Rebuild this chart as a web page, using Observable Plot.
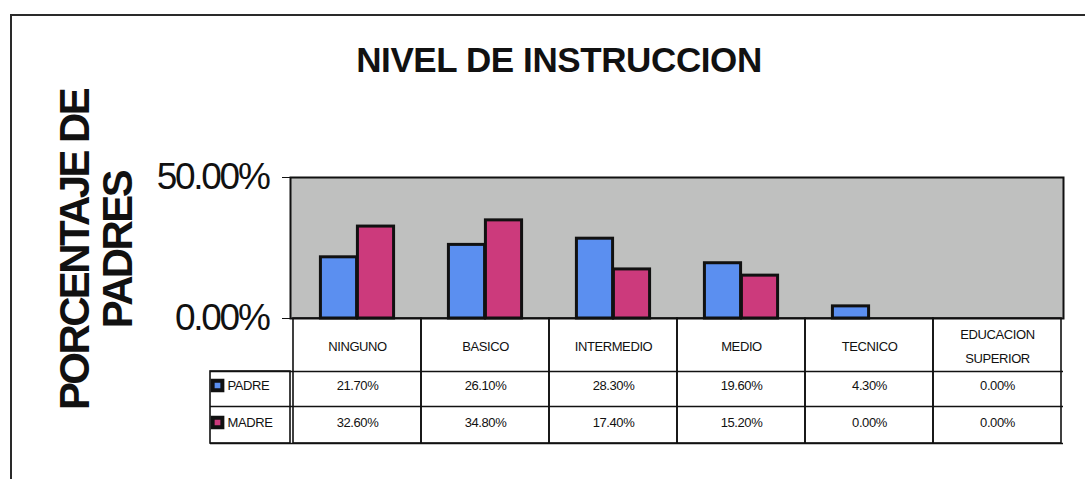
<!DOCTYPE html>
<html>
<head>
<meta charset="utf-8">
<script src="https://cdn.jsdelivr.net/npm/d3@7"></script>
<script src="https://cdn.jsdelivr.net/npm/@observablehq/plot@0.6"></script>
<style>
html,body{margin:0;padding:0;background:#fff;overflow:hidden;}
#wrap{position:relative;width:1085px;height:479px;overflow:hidden;background:#fff;}
#chart{position:absolute;left:0;top:0;}
#border{position:absolute;left:10px;top:14px;width:1100px;height:520px;border:2px solid #2a2a2a;pointer-events:none;}
#chart g[aria-label^="y-axis"] text{font-size:37px;letter-spacing:-2.3px;}
#chart g[font-size="42"]{letter-spacing:-2.6px;}
#chart g[font-size="35"]{letter-spacing:-0.4px;}
#chart g[font-size="13"]{letter-spacing:-0.4px;}
</style>
</head>
<body>
<div id="wrap"><div id="chart"></div><div id="border"></div></div>
<script>
// ---- data ----
const categories = ["NINGUNO", "BASICO", "INTERMEDIO", "MEDIO", "TECNICO", "EDUCACION SUPERIOR"];
const categoryLabels = ["NINGUNO", "BASICO", "INTERMEDIO", "MEDIO", "TECNICO", "EDUCACION\nSUPERIOR"];
const series = ["PADRE", "MADRE"];
const padre = [21.7, 26.1, 28.3, 19.6, 4.3, 0.0];
const madre = [32.6, 34.8, 17.4, 15.2, 0.0, 0.0];
const yTicks = [0, 50];
const titleText = "NIVEL DE INSTRUCCION";
const yTitleText = "PORCENTAJE DE\nPADRES";

const rows = series.flatMap((s, si) =>
  categories.map((c, i) => ({series: s, cat: c, label: categoryLabels[i], value: (si === 0 ? padre : madre)[i]}))
);

// ---- layout / style ----
const W = 1085, H = 479, ML = 290, MR = 22, MT = 177, MB = 161;
const FW = W - ML - MR;
const colors = ["#5b8ff0", "#cc3a7c"];
const pct = v => v.toFixed(2) + "%";
const barW = 37;
const inset = (FW / categories.length - barW) / 2;
const ROW1 = 53, ROW2 = 88, ROW3 = 125, LEG = 80;
const line = "#111";

const plot = Plot.plot({
  width: W, height: H,
  marginLeft: ML, marginRight: MR, marginTop: MT, marginBottom: MB,
  style: {fontFamily: "'Liberation Sans', Arial, sans-serif", background: "transparent", color: "#111"},
  x: {domain: categories, padding: 0, axis: null},
  y: {domain: [0, 50], ticks: yTicks, tickFormat: d => d.toFixed(2) + "%", tickSize: 8, tickPadding: 14, label: null},
  color: {domain: series, range: colors},
  marks: [
    Plot.frame({fill: "#bfc0bf"}),
    Plot.barY(rows, {filter: d => d.series === "PADRE", x: "cat", y: "value", fill: "series", stroke: line, strokeWidth: 3, insetLeft: inset, insetRight: inset, dx: -barW / 2}),
    Plot.barY(rows, {filter: d => d.series === "MADRE", x: "cat", y: "value", fill: "series", stroke: line, strokeWidth: 3, insetLeft: inset, insetRight: inset, dx: barW / 2}),
    Plot.frame({stroke: line, strokeWidth: 2}),
    // data table grid
    Plot.barY(categories, {x: d => d, y1: 0, y2: 0, insetBottom: -ROW3, fill: "none", stroke: line, strokeWidth: 1.6}),
    Plot.rect([0], {y1: 0, y2: 0, insetTop: ROW1, insetBottom: -ROW3, insetLeft: -LEG, insetRight: FW, fill: "none", stroke: line, strokeWidth: 1.6}),
    Plot.ruleY([0], {dy: ROW1, insetLeft: -LEG, stroke: line, strokeWidth: 1.6}),
    Plot.ruleY([0], {dy: ROW2, insetLeft: -LEG, stroke: line, strokeWidth: 1.6}),
    Plot.ruleY([0], {dy: ROW3, insetLeft: -LEG, stroke: line, strokeWidth: 1.6}),
    // table text
    Plot.text(rows, {filter: d => d.series === "PADRE", x: "cat", text: "label", frameAnchor: "bottom", dy: 25, fontSize: 13, lineHeight: 1.8, lineAnchor: "middle"}),
    Plot.text(rows, {filter: d => d.series === "PADRE", x: "cat", text: d => pct(d.value), frameAnchor: "bottom", dy: 67, fontSize: 13, lineAnchor: "middle"}),
    Plot.text(rows, {filter: d => d.series === "MADRE", x: "cat", text: d => pct(d.value), frameAnchor: "bottom", dy: 104, fontSize: 13, lineAnchor: "middle"}),
    // legend keys in the table
    Plot.dot([series[0]], {frameAnchor: "bottom-left", dx: -73, dy: 67, symbol: "square", r: 5.5, fill: d => d, stroke: line, strokeWidth: 4}),
    Plot.dot([series[1]], {frameAnchor: "bottom-left", dx: -73, dy: 104, symbol: "square", r: 5.5, fill: d => d, stroke: line, strokeWidth: 4}),
    Plot.text([series[0]], {frameAnchor: "bottom-left", dx: -63, dy: 67, text: d => d, textAnchor: "start", fontSize: 13, lineAnchor: "middle"}),
    Plot.text([series[1]], {frameAnchor: "bottom-left", dx: -63, dy: 104, text: d => d, textAnchor: "start", fontSize: 13, lineAnchor: "middle"}),
    // titles
    Plot.text([titleText], {frameAnchor: "top", dx: -118, dy: 60 - MT, text: d => d, textAnchor: "middle", fontSize: 35, fontWeight: "bold", lineAnchor: "middle"}),
    Plot.text([yTitleText], {frameAnchor: "left", dx: 96.5 - ML, dy: 2, text: d => d, rotate: -90, textAnchor: "middle", fontSize: 42, fontWeight: "bold", lineHeight: 1.03, lineAnchor: "middle"})
  ]
});
document.getElementById("chart").appendChild(plot);
</script>
</body>
</html>
